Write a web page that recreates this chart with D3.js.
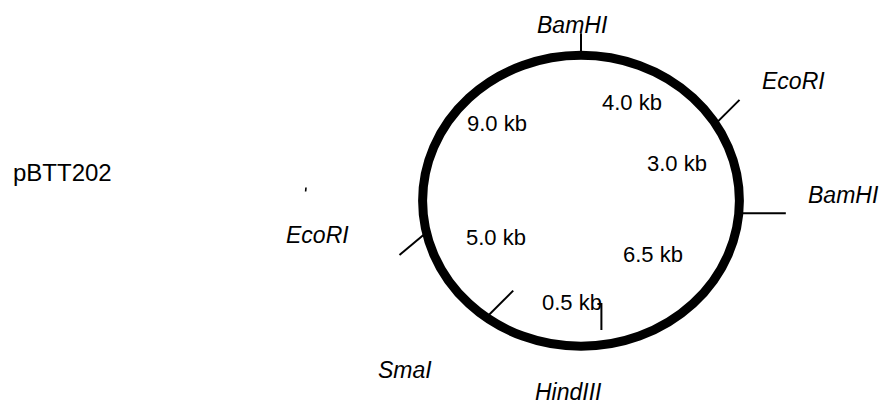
<!DOCTYPE html>
<html>
<head>
<meta charset="utf-8">
<script src="https://cdn.jsdelivr.net/npm/d3@7"></script>
<style>
  html, body { margin: 0; padding: 0; background: #fff; }
  svg { display: block; }
  text { font-family: "Liberation Sans", Arial, Helvetica, sans-serif; fill: #000; }
</style>
</head>
<body>
<svg id="chart" width="887" height="405"></svg>
<script>
// ---- data ----
const plasmidName = "pBTT202";
const siteNames = ["BamHI", "EcoRI", "BamHI", "HindIII", "SmaI", "EcoRI"];
const siteAngles = [0, 58.1, 94.9, 172.6, 216.7, 257.4];      // degrees clockwise from top
const fragmentLabels = ["4.0 kb", "3.0 kb", "6.5 kb", "0.5 kb", "5.0 kb", "9.0 kb"];

// ---- layout (positions / styles) ----
const W = 887, H = 405;
const ring = { cx: 581, cy: 200.8, rx: 158.4, ry: 145.5, width: 9 };
// tick: screen direction (deg), start offset from ring centerline, length, optional hook
const tickStyle = [
  { dir: -90, start: 0, len: 22 },
  { dir: -45, start: 0, len: 34 },
  { dir: 0, start: 0, len: 47 },
  { dir: -90, start: 15, len: 26, hook: -4 },
  { dir: -45, start: 0, len: 38 },
  { dir: 140.3, start: 0, len: 35 }
];
const siteLabelPos = [[537, 33], [762, 89], [808, 203], [535, 400], [378, 378], [286, 243]];
const fragLabelPos = [[602, 110], [647, 171], [623, 262], [542, 310], [466, 245], [467, 131]];
const titlePos = [13, 181];

const svg = d3.select("#chart");
const rad = d3.scaleLinear().domain([0, 360]).range([0, 2 * Math.PI]);
const onRing = a => [ring.cx + ring.rx * Math.sin(rad(a)), ring.cy - ring.ry * Math.cos(rad(a))];

// ring
svg.append("ellipse")
  .attr("cx", ring.cx).attr("cy", ring.cy)
  .attr("rx", ring.rx).attr("ry", ring.ry)
  .attr("fill", "none").attr("stroke", "#000").attr("stroke-width", ring.width);

// site ticks
const ticks = siteAngles.map((a, i) => {
  const p = onRing(a), t = tickStyle[i], d = rad(t.dir + 90) - Math.PI / 2;
  const ux = Math.cos(d), uy = Math.sin(d);
  return {
    x1: p[0] + ux * t.start, y1: p[1] + uy * t.start,
    x2: p[0] + ux * (t.start + t.len), y2: p[1] + uy * (t.start + t.len),
    hook: t.hook
  };
});
svg.append("g").selectAll("path").data(ticks).join("path")
  .attr("d", t => {
    const p = d3.path();
    p.moveTo(t.x1, t.y1); p.lineTo(t.x2, t.y2);
    if (t.hook) p.lineTo(t.x2 + t.hook, t.y2);
    return p.toString();
  })
  .attr("fill", "none").attr("stroke", "#000").attr("stroke-width", 2);

// site labels
svg.append("g").selectAll("text").data(siteNames).join("text")
  .attr("x", (d, i) => siteLabelPos[i][0]).attr("y", (d, i) => siteLabelPos[i][1])
  .attr("font-size", 23).attr("font-style", "italic")
  .text(d => d);

// fragment labels
svg.append("g").selectAll("text").data(fragmentLabels).join("text")
  .attr("x", (d, i) => fragLabelPos[i][0]).attr("y", (d, i) => fragLabelPos[i][1])
  .attr("font-size", 22)
  .text(d => d);

// title
svg.append("text").attr("x", titlePos[0]).attr("y", titlePos[1])
  .attr("font-size", 24).text(plasmidName);

// small stray mark
svg.append("line").attr("x1", 306).attr("y1", 187.5).attr("x2", 305.6).attr("y2", 191.5)
  .attr("stroke", "#000").attr("stroke-width", 1.6);
</script>
</body>
</html>
